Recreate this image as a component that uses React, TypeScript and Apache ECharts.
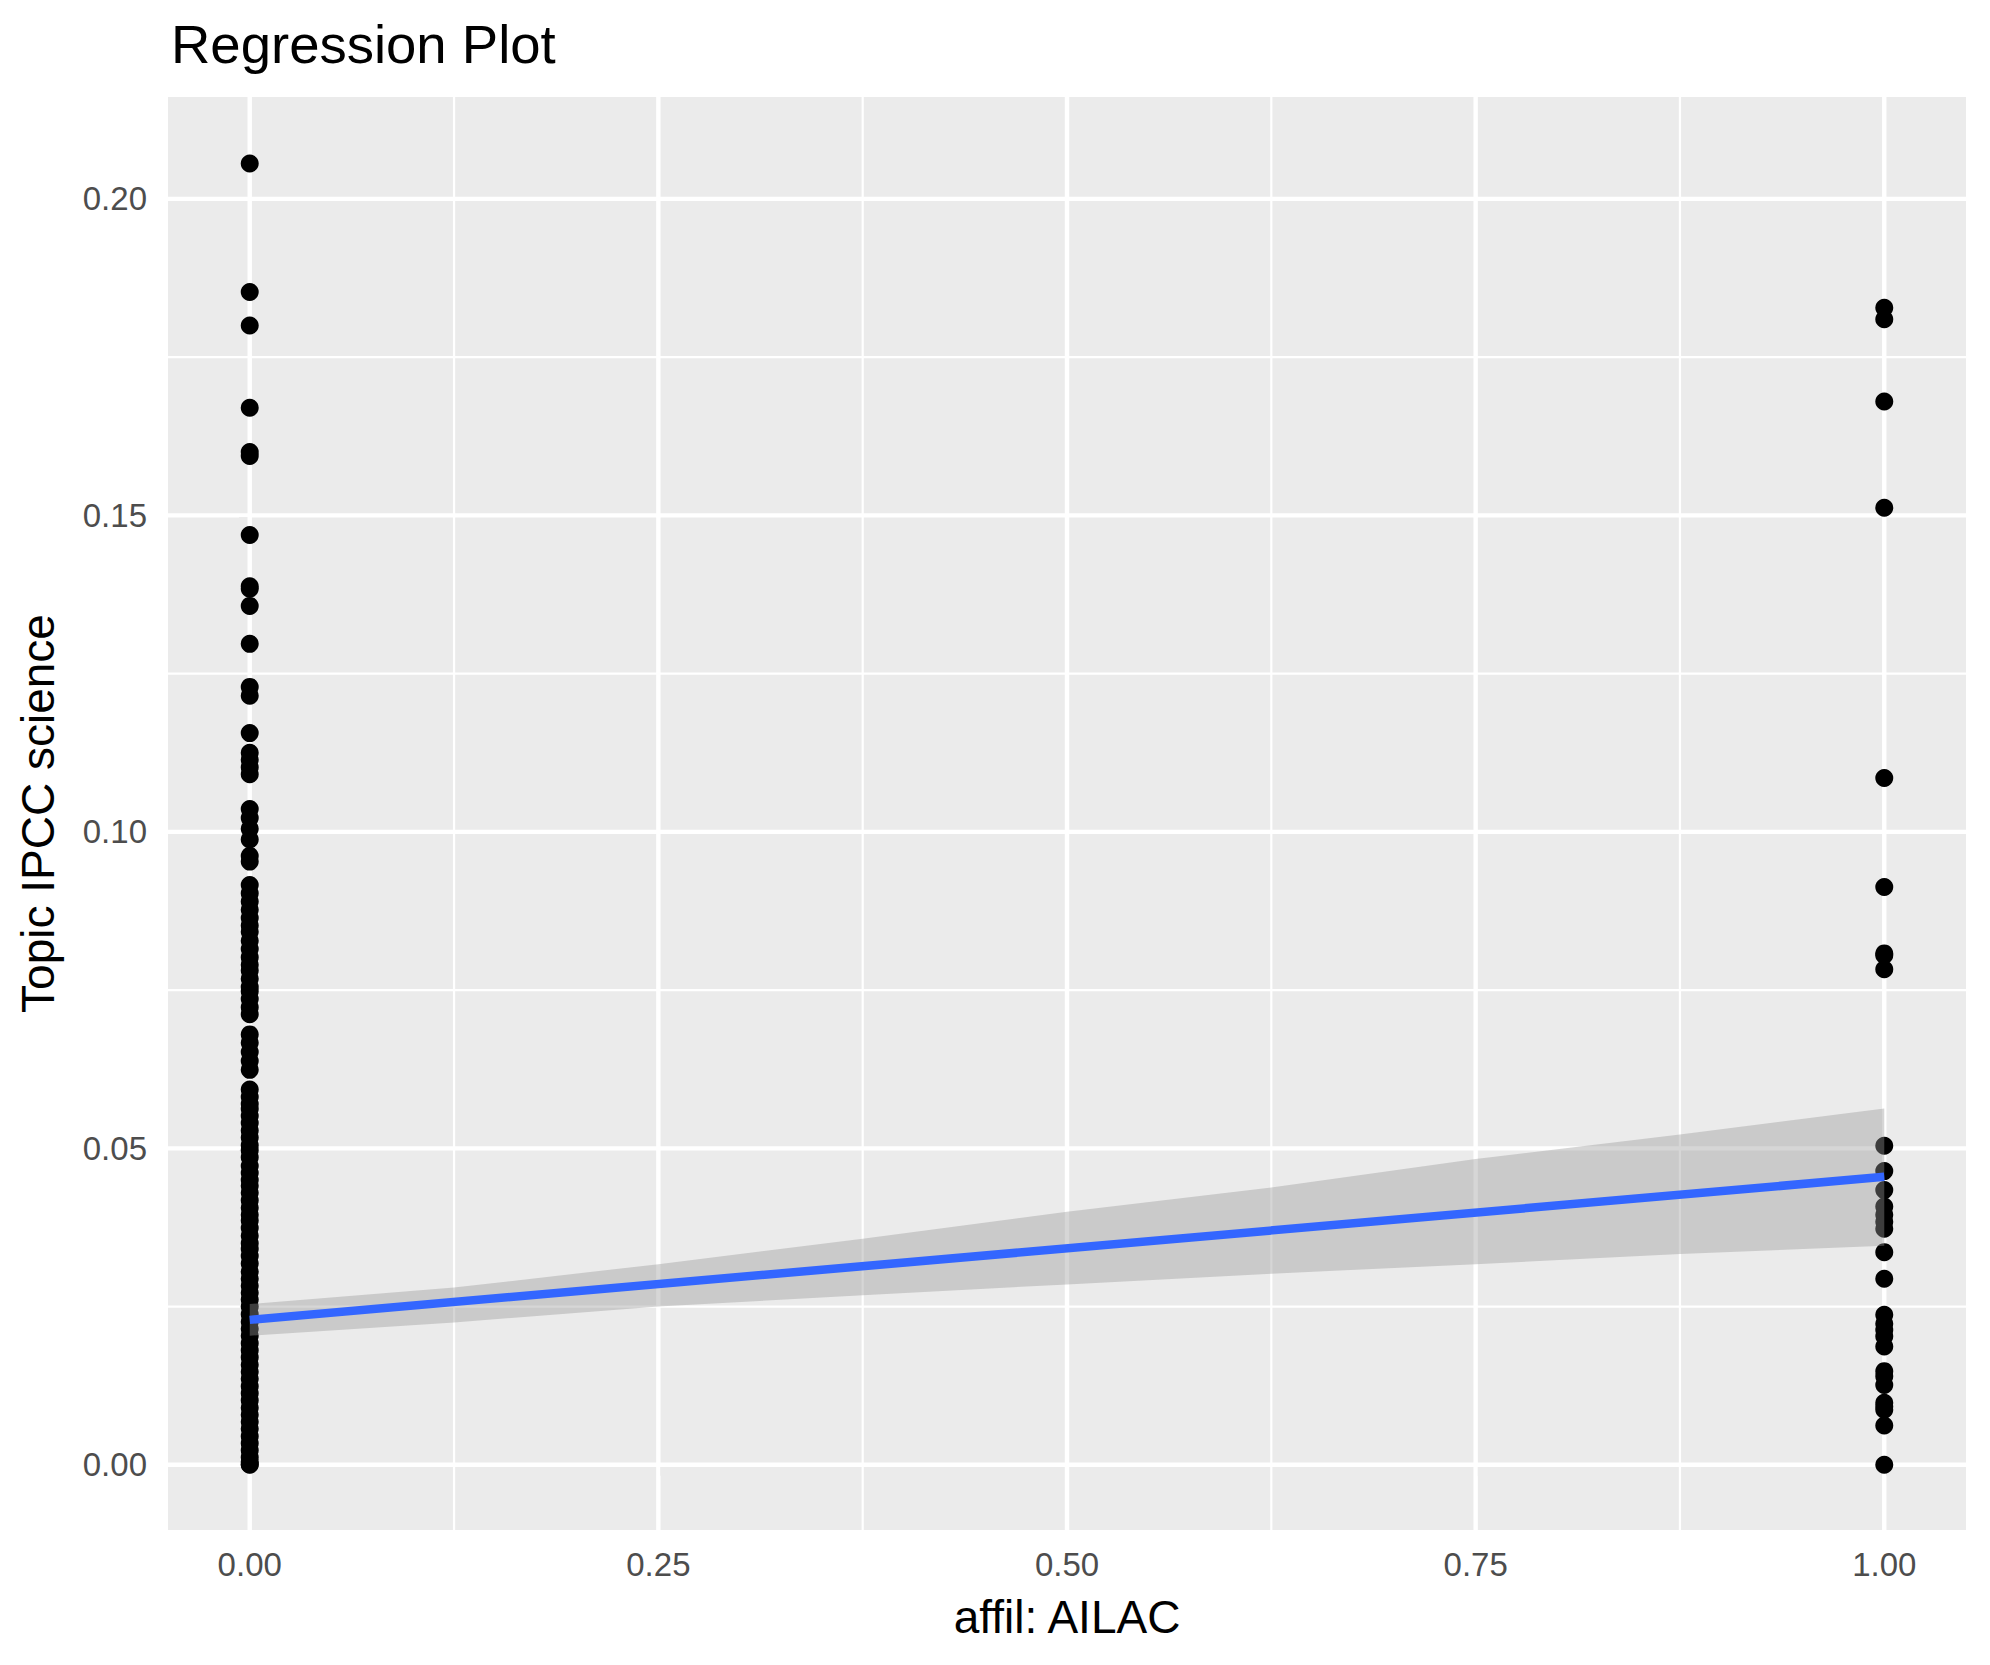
import React, { useEffect, useRef } from "react";
import * as echarts from "echarts";

const titleText = "Regression Plot";
const xAxisTitle = "affil: AILAC";
const yAxisTitle = "Topic IPCC science";

const xTicks = [0, 0.25, 0.5, 0.75, 1];
const xMinor = [0.125, 0.375, 0.625, 0.875];
const yTicks = [0, 0.05, 0.1, 0.15, 0.2];
const yMinor = [0.025, 0.075, 0.125, 0.175];

const groupX = [0, 1];

// Topic IPCC science values, affil AILAC = 0
const valuesAt0 = [
  0.2056, 0.1853, 0.18, 0.167, 0.16, 0.1594, 0.1469, 0.1388, 0.1384, 0.1357,
  0.1297, 0.1229, 0.1215, 0.1156, 0.1125, 0.1114, 0.1102, 0.1091,
  0.1036, 0.1022, 0.1005, 0.0988, 0.0962, 0.0953,
  0.0916, 0.0903, 0.089, 0.0877, 0.0864, 0.0852, 0.0842, 0.0828, 0.0815, 0.0802,
  0.079, 0.0781, 0.0768, 0.0755, 0.0748, 0.0736, 0.0723, 0.0712,
  0.068, 0.0667, 0.0652, 0.0638, 0.0624,
  0.0593, 0.0581, 0.057, 0.0562, 0.0551, 0.054, 0.0528, 0.0517, 0.0505, 0.0497,
  0.0486, 0.0472, 0.0461, 0.045, 0.0441, 0.043, 0.0418, 0.0406, 0.0395, 0.0386,
  0.0374, 0.0362, 0.035, 0.0341, 0.033, 0.0318, 0.0305, 0.0294, 0.0283, 0.0272,
  0.0261, 0.025, 0.0238, 0.0226, 0.0215, 0.0204, 0.0192, 0.0181, 0.017, 0.0158,
  0.0147, 0.0136, 0.0124, 0.0113, 0.0102, 0.009, 0.0079, 0.0068, 0.0057, 0.0045,
  0.0034, 0.0023, 0.0012, 0.0005, 0.0001, 0.0,
];

// Topic IPCC science values, affil AILAC = 1
const valuesAt1 = [
  0.1828, 0.181, 0.168, 0.1512, 0.1085, 0.0913, 0.0808, 0.0805, 0.0783,
  0.0504, 0.0464, 0.0434, 0.0408, 0.0395, 0.0384, 0.0373, 0.0336, 0.0294,
  0.0237, 0.0223, 0.0213, 0.0203, 0.0187, 0.0148, 0.014, 0.0126,
  0.0098, 0.0092, 0.0087, 0.0062, 0.0,
];

// Linear fit
const fitX = [0, 1];
const fitY = [0.0229, 0.0455];

// Confidence band
const bandX = [0, 0.125, 0.25, 0.375, 0.5, 0.625, 0.75, 0.875, 1];
const bandUpper = [0.0254, 0.028, 0.0317, 0.0357, 0.04, 0.0438, 0.0483, 0.0522, 0.0563];
const bandLower = [0.0204, 0.0225, 0.025, 0.0268, 0.0285, 0.0302, 0.0317, 0.0333, 0.0346];

const FONT = "'Liberation Sans', Arial, Helvetica, sans-serif";
const X_MIN = -0.05;
const X_MAX = 1.05;
const Y_MIN = -0.0103;
const Y_MAX = 0.2161;

export default function App() {
  const ref = useRef<HTMLDivElement>(null);

  useEffect(() => {
    if (!ref.current) return;
    const chart = echarts.init(ref.current, undefined, { renderer: "svg" });

    const gridData: number[][] = [];
    xTicks.forEach((v) => gridData.push([0, v, 4.4]));
    xMinor.forEach((v) => gridData.push([0, v, 2.2]));
    yTicks.forEach((v) => gridData.push([1, v, 4.4]));
    yMinor.forEach((v) => gridData.push([1, v, 2.2]));

    const points: number[][] = [];
    valuesAt0.forEach((v) => points.push([groupX[0], v]));
    valuesAt1.forEach((v) => points.push([groupX[1], v]));

    const fitData = fitX.map((x, i) => [x, fitY[i]]);

    const labelStyle = {
      fontFamily: FONT,
      fontSize: 33,
      color: "#4D4D4D",
    };

    const option: any = {
      animation: false,
      backgroundColor: "#FFFFFF",
      title: {
        text: titleText,
        left: 171,
        top: 17,
        padding: 0,
        textStyle: {
          fontFamily: FONT,
          fontSize: 54.5,
          fontWeight: "normal",
          color: "#000000",
        },
      },
      grid: {
        left: 168,
        top: 97,
        right: 24,
        bottom: 135,
        show: true,
        backgroundColor: "#EBEBEB",
        borderWidth: 0,
      },
      xAxis: {
        type: "value",
        min: X_MIN,
        max: X_MAX,
        name: xAxisTitle,
        nameLocation: "middle",
        nameGap: 64,
        nameTextStyle: { fontFamily: FONT, fontSize: 46, color: "#000000" },
        axisLine: { show: false },
        axisTick: {
          show: true,
          customValues: xTicks,
          length: 11,
          lineStyle: { color: "#333333", width: 2.2 },
        },
        axisLabel: {
          show: true,
          customValues: xTicks,
          margin: 18,
          formatter: (v: number) => v.toFixed(2),
          ...labelStyle,
        },
        splitLine: { show: false },
      },
      yAxis: {
        type: "value",
        min: Y_MIN,
        max: Y_MAX,
        name: yAxisTitle,
        nameLocation: "middle",
        nameRotate: 90,
        nameGap: 107,
        nameTextStyle: { fontFamily: FONT, fontSize: 46, color: "#000000" },
        axisLine: { show: false },
        axisTick: {
          show: true,
          customValues: yTicks,
          length: 11,
          lineStyle: { color: "#333333", width: 2.2 },
        },
        axisLabel: {
          show: true,
          customValues: yTicks,
          margin: 21,
          formatter: (v: number) => v.toFixed(2),
          ...labelStyle,
        },
        splitLine: { show: false },
      },
      series: [
        {
          type: "custom",
          name: "grid",
          z: 1,
          silent: true,
          data: gridData,
          renderItem: (params: any, api: any) => {
            const isY = api.value(0) === 1;
            const v = api.value(1);
            const w = api.value(2);
            const p1 = isY ? api.coord([X_MIN, v]) : api.coord([v, Y_MIN]);
            const p2 = isY ? api.coord([X_MAX, v]) : api.coord([v, Y_MAX]);
            return {
              type: "line",
              shape: { x1: p1[0], y1: p1[1], x2: p2[0], y2: p2[1] },
              style: { stroke: "#FFFFFF", lineWidth: w },
            };
          },
        },
        {
          type: "scatter",
          name: "points",
          z: 2,
          symbol: "circle",
          symbolSize: 18,
          itemStyle: { color: "#000000", opacity: 1 },
          data: points,
        },
        {
          type: "custom",
          name: "band",
          z: 3,
          silent: true,
          data: [[0, 0.03]],
          renderItem: (params: any, api: any) => {
            const pts: number[][] = [];
            bandX.forEach((x, i) => pts.push(api.coord([x, bandUpper[i]])));
            for (let i = bandX.length - 1; i >= 0; i--) {
              pts.push(api.coord([bandX[i], bandLower[i]]));
            }
            return {
              type: "polygon",
              shape: { points: pts },
              style: { fill: "rgba(153,153,153,0.4)", stroke: "none" },
            };
          },
        },
        {
          type: "line",
          name: "fit",
          z: 4,
          symbol: "none",
          lineStyle: { color: "#3366FF", width: 8.5, cap: "butt" },
          data: fitData,
        },
      ],
    };

    chart.setOption(option);
    return () => {
      chart.dispose();
    };
  }, []);

  return (
    <div
      ref={ref}
      style={{ position: "fixed", left: 0, top: 0, width: 1990, height: 1665 }}
    />
  );
}
